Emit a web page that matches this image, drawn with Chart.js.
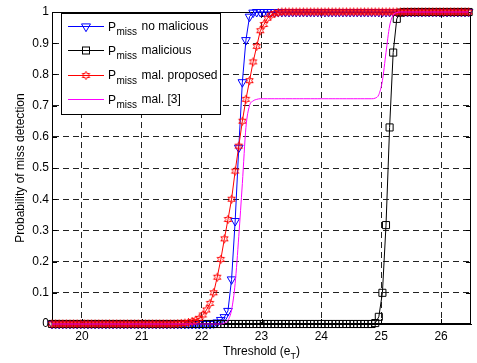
<!DOCTYPE html>
<html>
<head>
<meta charset="utf-8">
<script src="https://cdn.jsdelivr.net/npm/chart.js@4"></script>
<style>
  html, body { margin: 0; padding: 0; background: #fff; }
  canvas { display: block; }
</style>
</head>
<body>
<canvas id="grafico" width="477" height="363"></canvas>
<script>
// threshold values (x) shared by all curves
const limiar = [
  19.50,19.56,19.62,19.68,19.74,19.80,19.86,19.92,19.98,20.04,
  20.10,20.16,20.22,20.28,20.34,20.40,20.46,20.52,20.58,20.64,
  20.70,20.76,20.82,20.88,20.94,21.00,21.06,21.12,21.18,21.24,
  21.30,21.36,21.42,21.48,21.54,21.60,21.66,21.72,21.78,21.84,
  21.90,21.96,22.02,22.08,22.14,22.20,22.26,22.32,22.38,22.44,
  22.50,22.56,22.62,22.68,22.74,22.80,22.86,22.92,22.98,23.04,
  23.10,23.16,23.22,23.28,23.34,23.40,23.46,23.52,23.58,23.64,
  23.70,23.76,23.82,23.88,23.94,24.00,24.06,24.12,24.18,24.24,
  24.30,24.36,24.42,24.48,24.54,24.60,24.66,24.72,24.78,24.84,
  24.90,24.96,25.02,25.08,25.14,25.20,25.26,25.32,25.38,25.44,
  25.50,25.56,25.62,25.68,25.74,25.80,25.86,25.92,25.98,26.04,
  26.10,26.16,26.22,26.28,26.34,26.40,26.46
]

const semMalicioso = [
  0,0,0,0,0,0,0,0,0,0,
  0,0,0,0,0,0,0,0,0,0,
  0,0,0,0,0,0,0,0,0,0,
  0,0,0,0,0,0,0,0,0,0,
  0,0,0,0,0,0.002,0.005,0.013,0.022,0.042,
  0.143,0.33,0.565,0.775,0.91,0.985,0.998,1,1,1,
  1,1,1,1,1,1,1,1,1,1,
  1,1,1,1,1,1,1,1,1,1,
  1,1,1,1,1,1,1,1,1,1,
  1,1,1,1,1,1,1,1,1,1,
  1,1,1,1,1,1,1,1,1,1,
  1,1,1,1,1,1,1
]

const malicioso = [
  0,0,0,0,0,0,0,0,0,0,
  0,0,0,0,0,0,0,0,0,0,
  0,0,0,0,0,0,0,0,0,0,
  0,0,0,0,0,0,0,0,0,0,
  0,0,0,0,0,0,0,0,0,0,
  0,0,0,0,0,0,0,0,0,0,
  0,0,0,0,0,0,0,0,0,0,
  0,0,0,0,0,0,0,0,0,0,
  0,0,0,0,0,0,0,0,0,0,
  0.003,0.023,0.10,0.317,0.63,0.87,0.978,0.998,1,1,
  1,1,1,1,1,1,1,1,1,1,
  1,1,1,1,1,1,1
]

const proposto = [
  0,0,0,0,0,0,0,0,0,0,
  0,0,0,0,0,0,0,0,0,0,
  0,0,0,0,0,0,0,0,0,0,
  0,0,0,0,0,0.001,0.002,0.003,0.005,0.008,
  0.012,0.018,0.029,0.045,0.066,0.10,0.15,0.207,0.273,0.335,
  0.40,0.49,0.57,0.65,0.72,0.78,0.84,0.89,0.94,0.96,
  0.98,0.99,0.995,0.998,1,1,1,1,1,1,
  1,1,1,1,1,1,1,1,1,1,
  1,1,1,1,1,1,1,1,1,1,
  1,1,1,1,1,1,1,1,1,1,
  1,1,1,1,1,1,1,1,1,1,
  1,1,1,1,1,1,1
]

const ref3 = [
  0,0,0,0,0,0,0,0,0,0,
  0,0,0,0,0,0,0,0,0,0,
  0,0,0,0,0,0,0,0,0,0,
  0,0,0,0,0,0,0,0,0,0,
  0,0,0,0,0,0,0,0,0.003,0.012,
  0.045,0.13,0.28,0.45,0.63,0.70,0.715,0.72,0.722,0.722,
  0.722,0.722,0.722,0.722,0.722,0.722,0.722,0.722,0.722,0.722,
  0.722,0.722,0.722,0.722,0.722,0.722,0.722,0.722,0.722,0.722,
  0.722,0.722,0.722,0.722,0.722,0.722,0.722,0.722,0.722,0.722,
  0.724,0.735,0.78,0.87,0.955,0.99,0.998,1,1,1,
  1,1,1,1,1,1,1,1,1,1,
  1,1,1,1,1,1,1
]

const nomes = ['no malicious', 'malicious', 'mal. proposed', 'mal. [3]']
const cores = ['#0000ff', '#000000', '#ff0000', '#ff00ff']
const ticksX = [20, 21, 22, 23, 24, 25, 26]
const ticksY = ['0', '0.1', '0.2', '0.3', '0.4', '0.5', '0.6', '0.7', '0.8', '0.9', '1']

const fonte = '"Liberation Sans", Arial, sans-serif'
Chart.defaults.font.family = fonte
Chart.defaults.font.size = 12
Chart.defaults.color = '#000'

function pontos(ys) {
  return limiar.map((x, i) => ({ x: x, y: ys[i] }))
}

// hexagram marker (matlab 'h')
function estrela(cor) {
  const c = document.createElement('canvas')
  c.width = 11
  c.height = 11
  const g = c.getContext('2d')
  g.strokeStyle = cor
  g.lineWidth = 1
  g.beginPath()
  for (let i = 0; i < 12; i++) {
    const r = i % 2 === 0 ? 4.2 : 2.1
    const a = -Math.PI / 2 + i * Math.PI / 6
    const px = 5.5 + r * Math.cos(a)
    const py = 5.5 + r * Math.sin(a)
    if (i === 0) g.moveTo(px, py)
    else g.lineTo(px, py)
  }
  g.closePath()
  g.stroke()
  return c
}
const marcaEstrela = estrela(cores[2])

function desenhaMarca(ctx, tipo, x, y, cor) {
  ctx.save()
  ctx.strokeStyle = cor
  ctx.lineWidth = 1
  ctx.setLineDash([])
  if (tipo === 'tri') {
    ctx.beginPath()
    ctx.moveTo(x - 4.5, y - 2.6)
    ctx.lineTo(x + 4.5, y - 2.6)
    ctx.lineTo(x, y + 5.2)
    ctx.closePath()
    ctx.stroke()
  } else if (tipo === 'rect') {
    ctx.strokeRect(x - 3.5, y - 3.5, 7, 7)
  } else if (tipo === 'star') {
    ctx.drawImage(marcaEstrela, x - 5.5, y - 5.5)
  }
  ctx.restore()
}

const moldura = {
  id: 'moldura',
  beforeDatasetsDraw(chart) {
    const { ctx, chartArea: a, scales } = chart
    ctx.save()
    ctx.strokeStyle = '#000'
    ctx.lineWidth = 1
    ctx.setLineDash([])
    ctx.strokeRect(a.left + 0.5, a.top + 0.5, a.right - a.left - 1, a.bottom - a.top - 1)
    ctx.beginPath()
    scales.x.ticks.forEach(t => {
      const px = Math.round(scales.x.getPixelForValue(t.value)) + 0.5
      ctx.moveTo(px, a.bottom); ctx.lineTo(px, a.bottom - 5)
      ctx.moveTo(px, a.top); ctx.lineTo(px, a.top + 5)
    })
    scales.y.ticks.forEach(t => {
      const py = Math.round(scales.y.getPixelForValue(t.value)) + 0.5
      ctx.moveTo(a.left, py); ctx.lineTo(a.left + 5, py)
      ctx.moveTo(a.right, py); ctx.lineTo(a.right - 5, py)
    })
    ctx.stroke()
    ctx.restore()
  },
  afterDraw(chart) {
    const { ctx, chartArea: a } = chart
    ctx.save()
    // x axis title with subscript
    ctx.fillStyle = '#000'
    ctx.textBaseline = 'alphabetic'
    ctx.font = '12px ' + fonte
    const t1 = 'Threshold (e'
    const t3 = ')'
    const w1 = ctx.measureText(t1).width
    const w3 = ctx.measureText(t3).width
    ctx.font = '9px ' + fonte
    const w2 = ctx.measureText('T').width
    let x0 = (a.left + a.right) / 2 - (w1 + w2 + w3) / 2
    ctx.font = '12px ' + fonte
    ctx.fillText(t1, x0, 355)
    ctx.font = '9px ' + fonte
    ctx.fillText('T', x0 + w1, 359)
    ctx.font = '12px ' + fonte
    ctx.fillText(t3, x0 + w1 + w2, 355)

    // legend
    const lx = 61, ly = 13, lw = 160, lh = 102
    ctx.fillStyle = '#fff'
    ctx.fillRect(lx, ly, lw, lh)
    ctx.strokeStyle = '#000'
    ctx.lineWidth = 1
    ctx.strokeRect(lx + 0.5, ly + 0.5, lw - 1, lh - 1)
    const tipos = ['tri', 'rect', 'star', '']
    nomes.forEach((nome, i) => {
      const cy = 26 + i * 24.4
      ctx.strokeStyle = cores[i]
      ctx.beginPath()
      ctx.moveTo(68, Math.round(cy) + 0.5)
      ctx.lineTo(104, Math.round(cy) + 0.5)
      ctx.stroke()
      desenhaMarca(ctx, tipos[i], 86, Math.round(cy) + 0.5, cores[i])
      ctx.fillStyle = '#000'
      ctx.font = '12px ' + fonte
      ctx.fillText('P', 108, cy + 4.5)
      ctx.font = '10px ' + fonte
      ctx.fillText('miss', 116.5, cy + 9)
      ctx.font = '12px ' + fonte
      ctx.fillText(nome, 141.5, cy + 4)
    })
    ctx.restore()
  }
}

const ctx = document.getElementById('grafico')

new Chart(ctx, {
  type: 'line',
  data: {
    datasets: [
      {
        label: nomes[0],
        data: pontos(semMalicioso),
        borderColor: cores[0],
        borderWidth: 1,
        pointStyle: 'triangle',
        rotation: 180,
        pointRadius: 5,
        pointBorderColor: cores[0],
        pointBackgroundColor: 'rgba(0,0,0,0)',
        pointBorderWidth: 1,
        order: 3
      },
      {
        label: nomes[1],
        data: pontos(malicioso),
        borderColor: cores[1],
        borderWidth: 1,
        pointStyle: 'rect',
        pointRadius: 5,
        pointBorderColor: cores[1],
        pointBackgroundColor: 'rgba(0,0,0,0)',
        pointBorderWidth: 1,
        order: 2
      },
      {
        label: nomes[2],
        data: pontos(proposto),
        borderColor: cores[2],
        borderWidth: 1,
        pointStyle: marcaEstrela,
        pointRadius: 5,
        order: 1
      },
      {
        label: nomes[3],
        data: pontos(ref3),
        borderColor: cores[3],
        borderWidth: 1,
        pointRadius: 0,
        cubicInterpolationMode: 'monotone',
        order: 0
      }
    ]
  },
  options: {
    responsive: false,
    animation: false,
    clip: false,
    layout: { padding: { top: 12, right: 1, left: 0, bottom: 0 } },
    plugins: {
      legend: { display: false },
      tooltip: { enabled: false }
    },
    scales: {
      x: {
        type: 'linear',
        min: 19.5,
        max: 26.5,
        afterFit(scale) { scale.height = 39 },
        afterBuildTicks(scale) { scale.ticks = ticksX.map(v => ({ value: v })) },
        ticks: { padding: 5, includeBounds: false, maxRotation: 0 },
        grid: { color: '#222', lineWidth: 1, drawTicks: false },
        border: { display: true, color: '#000', width: 1, dash: [6, 4] }
      },
      y: {
        min: 0,
        max: 1,
        afterFit(scale) { scale.width = 52 },
        afterBuildTicks(scale) { scale.ticks = ticksY.map(v => ({ value: Number(v) })) },
        ticks: {
          padding: 3,
          callback: (v, i) => ticksY[i]
        },
        grid: { color: '#222', lineWidth: 1, drawTicks: false },
        border: { display: true, color: '#000', width: 1, dash: [6, 4] },
        title: {
          display: true,
          text: 'Probability of miss detection',
          padding: { top: 13, bottom: 0 },
          font: { size: 12 }
        }
      }
    }
  },
  plugins: [moldura]
})
</script>
</body>
</html>
